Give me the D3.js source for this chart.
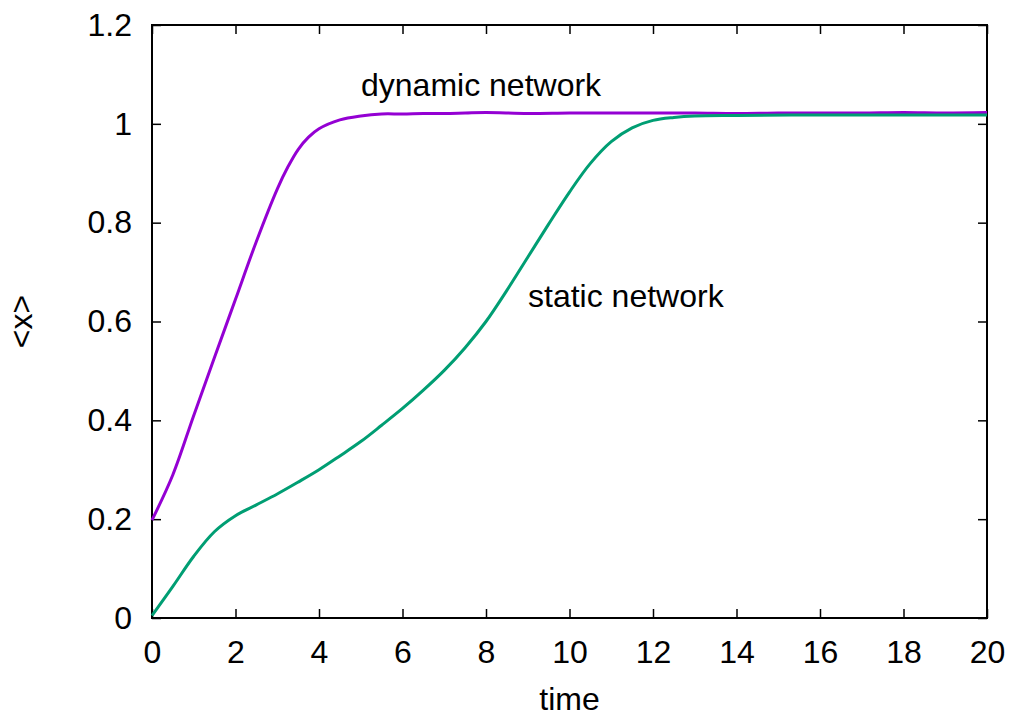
<!DOCTYPE html>
<html>
<head>
<meta charset="utf-8">
<script src="https://cdn.jsdelivr.net/npm/d3@7"></script>
<style>
  body { margin: 0; background: #fff; }
  svg { display: block; font-family: "Liberation Sans", Arial, sans-serif; }
</style>
</head>
<body>
<div class="chart"></div>
<script>
// values
const dynTime = [0, 0.5, 1, 1.5, 2, 2.5, 3, 3.25, 3.5, 3.75, 4, 4.5, 5, 5.5, 6, 6.5, 7, 7.5, 8, 9, 10, 11, 12, 13, 14, 15, 16, 17, 18, 19, 20];
const dynValue = [0.198, 0.29, 0.41, 0.528, 0.645, 0.762, 0.868, 0.912, 0.948, 0.973, 0.99, 1.008, 1.016, 1.02, 1.02, 1.021, 1.021, 1.022, 1.023, 1.021, 1.022, 1.022, 1.022, 1.022, 1.021, 1.022, 1.022, 1.022, 1.023, 1.022, 1.023];

const statTime = [0, 0.5, 1, 1.5, 2, 2.5, 3, 3.5, 4, 4.5, 5, 5.5, 6, 6.5, 7, 7.5, 8, 8.5, 9, 9.5, 10, 10.5, 11, 11.5, 12, 12.5, 13, 14, 16, 18, 20];
const statValue = [0.005, 0.064, 0.125, 0.175, 0.207, 0.229, 0.251, 0.275, 0.3, 0.328, 0.357, 0.39, 0.424, 0.461, 0.501, 0.547, 0.6, 0.663, 0.73, 0.797, 0.862, 0.92, 0.964, 0.992, 1.007, 1.013, 1.016, 1.017, 1.018, 1.018, 1.018];

const xTicks = [0, 2, 4, 6, 8, 10, 12, 14, 16, 18, 20];
const yTicks = [0, 0.2, 0.4, 0.6, 0.8, 1, 1.2];

const W = 1015, H = 716;
const margin = { top: 25, right: 28, bottom: 98, left: 152 };
const width = W - margin.left - margin.right;
const height = H - margin.top - margin.bottom;

const svg = d3.select(".chart").append("svg")
    .attr("width", W)
    .attr("height", H);

const g = svg.append("g")
    .attr("transform", `translate(${margin.left},${margin.top})`);

const x = d3.scaleLinear().domain([0, 20]).range([0, width]);
const y = d3.scaleLinear().domain([0, 1.2]).range([height, 0]);

// axes, ticks pointing inward on all four sides
function styleAxis(sel) {
    sel.select(".domain").remove();
    sel.selectAll(".tick line").attr("stroke", "#000").attr("stroke-width", 1.5);
    sel.selectAll("text").attr("fill", "#000").attr("font-size", "32px");
}

g.append("g")
    .attr("transform", `translate(0,${height})`)
    .call(d3.axisBottom(x).tickValues(xTicks).tickSizeInner(-9).tickSizeOuter(0).tickPadding(22).tickFormat(d => d))
    .call(styleAxis);

g.append("g")
    .call(d3.axisLeft(y).tickValues(yTicks).tickSizeInner(-9).tickSizeOuter(0).tickPadding(20).tickFormat(d => d))
    .call(styleAxis);

g.append("g")
    .call(d3.axisTop(x).tickValues(xTicks).tickSizeInner(-9).tickSizeOuter(0).tickFormat(""))
    .call(styleAxis);

g.append("g")
    .attr("transform", `translate(${width},0)`)
    .call(d3.axisRight(y).tickValues(yTicks).tickSizeInner(-9).tickSizeOuter(0).tickFormat(""))
    .call(styleAxis);

// frame
g.append("rect")
    .attr("width", width)
    .attr("height", height)
    .attr("fill", "none")
    .attr("stroke", "#000")
    .attr("stroke-width", 2);

const line = d3.line()
    .x(d => x(d[0]))
    .y(d => y(d[1]))
    .curve(d3.curveCatmullRom.alpha(0.5));

g.append("path")
    .datum(d3.zip(dynTime, dynValue))
    .attr("d", line)
    .attr("fill", "none")
    .attr("stroke", "#9400d3")
    .attr("stroke-width", 3);

g.append("path")
    .datum(d3.zip(statTime, statValue))
    .attr("d", line)
    .attr("fill", "none")
    .attr("stroke", "#009e73")
    .attr("stroke-width", 3);

// curve labels
g.append("text")
    .attr("x", 361 - margin.left)
    .attr("y", 96 - margin.top)
    .attr("font-size", "32px")
    .text("dynamic network");

g.append("text")
    .attr("x", 528 - margin.left)
    .attr("y", 307 - margin.top)
    .attr("font-size", "32px")
    .text("static network");

// axis titles
svg.append("text")
    .attr("x", margin.left + width / 2)
    .attr("y", 710)
    .attr("text-anchor", "middle")
    .attr("font-size", "32px")
    .text("time");

svg.append("text")
    .attr("transform", `translate(32,${margin.top + height / 2}) rotate(-90)`)
    .attr("text-anchor", "middle")
    .attr("font-size", "32px")
    .text("<x>");
</script>
</body>
</html>
